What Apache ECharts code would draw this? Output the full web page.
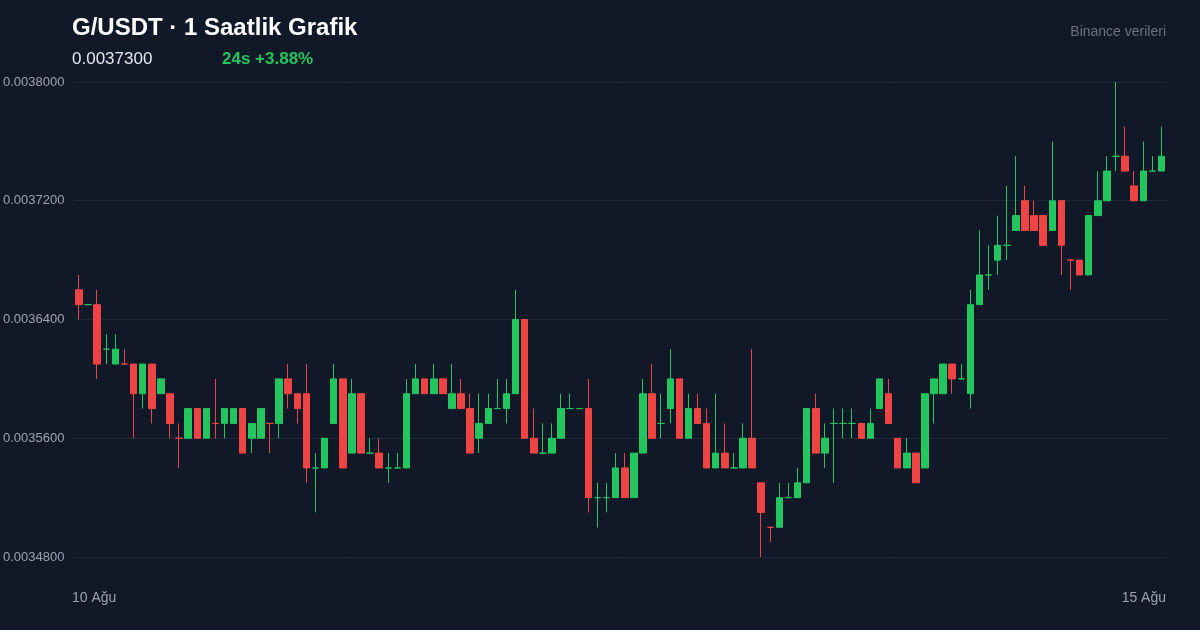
<!DOCTYPE html>
<html><head><meta charset="utf-8">
<script src="https://cdn.jsdelivr.net/npm/echarts@6/dist/echarts.min.js"></script>
<style>html,body{margin:0;background:#111827;}#c{width:1200px;height:630px;}</style>
</head><body><div id="c"></div>
<script>
// prices in units of 0.00001 USDT
const opens  = [366,365,365,362,361,361,361,359,361,359,359,356,356,358,356,357,357,357,358,356,356,357,357,360,359,359,354,354,357,360,355,359,355,355,354,354,354,359,360,359,360,358,359,358,356,357,358,358,359,364,356,355,355,356,358,358,358,352,352,352,354,352,355,359,357,358,360,356,358,357,354,355,354,354,356,353,350,350,352,352,353,358,355,357,357,357,357,356,358,359,356,354,355,354,359,359,361,360,359,365,367,368,369,370,372,371,371,370,372,368,368,367,371,372,375,375,373,372,374,374];
const closes = [365,365,361,362,362,361,359,361,358,360,357,356,358,356,358,357,358,358,355,357,358,357,360,359,358,354,354,356,360,354,359,355,355,354,354,354,359,360,359,360,359,359,358,355,357,358,358,359,364,356,355,355,356,358,358,358,352,352,352,354,352,355,359,356,357,360,356,358,357,354,355,354,354,356,354,351,350,352,352,353,358,355,356,357,357,357,356,357,360,357,354,355,353,359,360,361,360,360,365,367,367,369,369,371,370,370,369,372,369,368,367,371,372,374,375,374,372,374,374,375];
const lows   = [364,365,360,361,361,361,356,358,357,359,356,354,356,356,356,356,356,357,355,355,356,355,356,358,357,353,351,354,357,354,355,355,355,354,353,354,354,359,359,359,359,358,358,355,355,357,358,357,359,356,355,355,355,356,358,358,351,350,351,352,352,352,355,356,356,357,356,356,357,354,354,354,354,354,354,348,349,350,352,352,353,355,354,353,356,356,356,356,358,357,354,354,353,354,357,359,359,360,358,365,366,367,368,370,370,370,369,370,367,366,367,367,371,372,374,374,372,372,374,374];
const highs  = [367,365,366,363,363,362,361,361,361,360,359,357,358,358,358,360,358,358,358,357,358,357,360,361,359,361,355,356,361,360,360,359,356,356,355,355,360,361,360,361,360,361,360,359,359,359,360,360,366,364,358,357,357,359,359,358,360,353,353,355,355,355,360,361,359,362,360,359,359,358,359,357,355,357,362,353,350,353,353,354,358,359,357,358,358,358,357,358,360,360,356,356,355,359,360,361,361,361,366,370,369,371,373,375,373,372,371,376,372,368,368,371,374,375,380,377,374,376,375,377];
const yTicks = [0.00348,0.00356,0.00364,0.00372,0.0038];
const categories = opens.map((_, i) => 'h' + i);
const S = 0.00001;
const candles = opens.map((o, i) => [o * S, closes[i] * S, lows[i] * S, highs[i] * S]);

const chart = echarts.init(document.getElementById('c'));
chart.setOption({
  backgroundColor: '#111827',
  animation: false,
  grid: { left: 72, right: 34, top: 82, bottom: 73 },
  xAxis: { type: 'category', data: categories, boundaryGap: true,
    axisLine: { show: false }, axisTick: { show: false }, axisLabel: { show: false }, splitLine: { show: false } },
  yAxis: { type: 'value', min: yTicks[0], max: yTicks[yTicks.length - 1], interval: 0.00008,
    axisLine: { show: false }, axisTick: { show: false },
    axisLabel: { color: '#9ca3af', fontSize: 13, fontFamily: 'Liberation Sans, Arial', margin: 10,
      formatter: v => v.toFixed(7) },
    splitLine: { lineStyle: { color: '#1f2937', width: 1 } } },
  series: [{ type: 'candlestick', data: candles, barWidth: 7,
    itemStyle: { color: '#22c55e', color0: '#ef4444', borderColor: '#22c55e', borderColor0: '#ef4444', borderWidth: 1 } }],
  graphic: [
    { type: 'text', left: 72, top: 16, style: { text: 'G/USDT · 1 Saatlik Grafik', fill: '#ffffff', font: 'bold 24px Liberation Sans, Arial' } },
    { type: 'text', left: 72, top: 51, style: { text: '0.0037300', fill: '#e5e7eb', font: '17px Liberation Sans, Arial' } },
    { type: 'text', left: 222, top: 51, style: { text: '24s +3.88%', fill: '#22c55e', font: 'bold 17px Liberation Sans, Arial' } },
    { type: 'text', right: 34, top: 25, style: { text: 'Binance verileri', fill: '#6b7280', font: '14px Liberation Sans, Arial' } },
    { type: 'text', left: 72, top: 591, style: { text: '10 Ağu', fill: '#9ca3af', font: '14px Liberation Sans, Arial' } },
    { type: 'text', right: 34, top: 591, style: { text: '15 Ağu', fill: '#9ca3af', font: '14px Liberation Sans, Arial' } }
  ]
});
</script></body></html>
